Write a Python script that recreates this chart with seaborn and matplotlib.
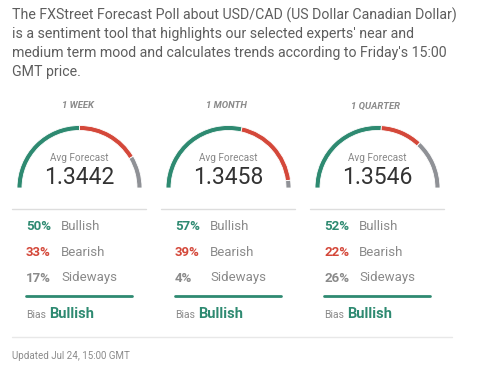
import matplotlib
matplotlib.use("Agg")
import matplotlib.pyplot as plt
import seaborn as sns

# chart data
intro_lines = [
    "The FXStreet Forecast Poll about USD/CAD (US Dollar Canadian Dollar)",
    "is a sentiment tool that highlights our selected experts' near and",
    "medium term mood and calculates trends according to Friday's 15:00",
    "GMT price.",
]
horizons = ["1 WEEK", "1 MONTH", "1 QUARTER"]
avg_forecast = ["1.3442", "1.3458", "1.3546"]
bullish = [50, 57, 52]
bearish = [33, 39, 22]
sideways = [17, 4, 26]
bias = ["Bullish", "Bullish", "Bullish"]
updated = "Updated Jul 24, 15:00 GMT"

GREEN = "#2e8a71"
RED = "#d4483a"
GRAY = "#8f9196"

sns.set_theme(style="white")
plt.rcParams["font.family"] = ["Roboto", "DejaVu Sans"]

W, H = 486, 373
fig = plt.figure(figsize=(W / 100, H / 100), dpi=100)
ax = fig.add_axes([0, 0, 1, 1])
ax.set_xlim(0, W)
ax.set_ylim(H, 0)
ax.axis("off")

for i, line in enumerate(intro_lines):
    ax.text(12, 15 + i * 19, line, fontsize=10.2, color="#5e5e5e", va="center", ha="left")

R = 62.5
for i in range(3):
    left = 12 + i * 149
    cx, cy = left + 67.5, 188

    ax.text(cx - 2, 106, horizons[i], fontsize=6.8, color="#8a8a8a", style="italic",
            weight="bold", ha="center", va="center")

    # gauge as half pie
    gax = fig.add_axes([(cx - R) / W, 1 - (cy + R) / H, 2 * R / W, 2 * R / H])
    vals = [bullish[i], bearish[i], sideways[i]]
    wedges, _ = gax.pie(vals + [sum(vals)], colors=[GREEN, RED, GRAY, "none"],
                        startangle=180, counterclock=False, radius=1,
                        wedgeprops=dict(width=0.08, edgecolor="white", linewidth=0.6))
    wedges[-1].set_edgecolor("none")
    gax.set_xlim(-1, 1)
    gax.set_ylim(-1, 1)
    gax.axis("off")

    ax.text(cx, 158, "Avg Forecast", fontsize=7.2, color="#888888", ha="center", va="center")
    ax.text(cx, 177, avg_forecast[i], fontsize=16.5, color="#333333",
            ha="center", va="center")

    ax.plot([left, left + 134], [209, 209], color="#dddddd", lw=1)

    rows = [(bullish[i], "Bullish", GREEN), (bearish[i], "Bearish", RED),
            (sideways[i], "Sideways", "#8a8a8a")]
    for j, (pct, name, col) in enumerate(rows):
        y = 227 + j * 25.5
        ax.text(left + 14, y, f"{pct}%", fontsize=9.5, color=col, weight="bold",
                ha="left", va="center")
        ax.text(left + 49, y, name, fontsize=9.5, color="#8a8a8a", ha="left", va="center")

    ax.plot([left + 14, left + 120], [296, 296], color=GREEN, lw=2)
    ax.text(left + 14, 315, "Bias", fontsize=7.5, color="#8a8a8a", ha="left", va="center")
    ax.text(left + 37, 313.5, bias[i], fontsize=10.5, color=GREEN, weight="bold",
            ha="left", va="center")

ax.plot([12, 452], [337, 337], color="#e8e8e8", lw=1)
ax.text(12, 356, updated, fontsize=7, color="#8a8a8a", ha="left", va="center")

fig.savefig("out.png", dpi=100)
